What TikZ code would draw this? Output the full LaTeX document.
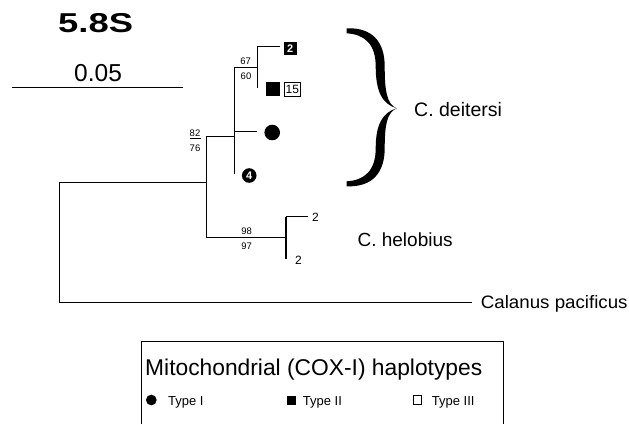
\documentclass[tikz,border=0pt]{standalone}
\usepackage{fontspec}
\setmainfont{Liberation Sans}
\newcommand{\fs}[1]{\fontsize{#1}{#1}\selectfont}
\begin{document}
\begin{tikzpicture}[x=1pt,y=-1pt,
  branch/.style={line width=0.9pt},
  lbl/.style={inner sep=0pt,font=\fs{9.5}},
  txt/.style={inner sep=0pt,anchor=base west}]
\useasboundingbox (0,0) rectangle (629,424);
% title and scale
\node[txt] (title) at (58,32) {\scalebox{1.4}[1.05]{\fs{26}\bfseries 5.8S}};
\node[txt] (scalelbl) at (74,81) {\fs{24.5}0.05};
\coordinate (sb0) at (11.7,87.3);
\coordinate (sb1) at (183,87.3);
\draw[line width=1.1pt] (sb0) -- (sb1);
% tree junctions
\coordinate (rA) at (59,182.3);
\coordinate (rB) at (59,302);
\coordinate (cal) at (471.7,302);
\coordinate (n1a) at (206,182.3);
\coordinate (n1t) at (206,136.7);
\coordinate (n1b) at (206,237.7);
\coordinate (n2a) at (234.3,136.7);
\coordinate (n2t) at (234.3,67.7);
\coordinate (n2b) at (234.3,174);
\coordinate (n3a) at (257.7,67.7);
\coordinate (n3t) at (257.7,46);
\coordinate (n3b) at (257.7,88.3);
\coordinate (t2) at (280,46);
\coordinate (cb0) at (234.3,131);
\coordinate (cb1) at (257.3,131);
\coordinate (h0) at (286,237.7);
\coordinate (h1) at (286,216.7);
\coordinate (h2) at (286,259.3);
\coordinate (h1e) at (308.3,216.7);
\draw[branch] (cal) -- (rB) -- (rA) -- (n1a);
\draw[branch] (n1t) -- (n1b) -- (h0);
\draw[branch] (n1t) -- (n2a);
\draw[branch] (n2t) -- (n2b);
\draw[branch] (n2t) -- (n3a);
\draw[branch] (n3t) -- (n3b);
\draw[branch] (n3t) -- (t2);
\draw[branch] (cb0) -- (cb1);
\draw[line width=1.3pt] (h1) -- (h2);
\draw[branch] (h1) -- (h1e);
% bootstrap labels
\node[lbl,anchor=base] (b67) at (245.7,64) {67};
\node[lbl,anchor=base] (b60) at (246,79.3) {60};
\node[lbl,anchor=base] (b82) at (195,136) {82};
\node[lbl,anchor=base] (b76) at (195,151) {76};
\coordinate (fr0) at (190,138.3);
\coordinate (fr1) at (200.7,138.3);
\draw[line width=0.8pt] (fr0) -- (fr1);
\node[lbl,anchor=base] (b98) at (246.7,234.3) {98};
\node[lbl,anchor=base] (b97) at (246.7,249.3) {97};
\node[inner sep=0pt,anchor=base,font=\fs{12}] (hl1) at (315.5,221.7) {2};
\node[inner sep=0pt,anchor=base,font=\fs{12}] (hl2) at (298.5,264) {2};
% haplotype symbols
\node[fill=black,minimum width=12.7pt,minimum height=13.3pt,inner sep=0pt,text=white,font=\fs{11}\bfseries] (hap2) at (290.3,48.3) {2};
\node[fill=black,minimum size=14pt,inner sep=0pt] (sq15) at (273,89) {};
\node[draw,line width=0.8pt,minimum width=15.3pt,minimum height=14.7pt,inner sep=0pt,font=\fs{12}] (op15) at (292.3,89.3) {15};
\node[circle,fill=black,minimum size=15.6pt,inner sep=0pt] (c1) at (272.2,132.5) {};
\node[circle,fill=black,minimum size=14.6pt,inner sep=0pt,text=white,font=\fs{11}\bfseries] (c4) at (249.2,175.5) {4};
% brace
\begin{scope}[shift={(346.7,28.3)}]
\fill (0,0) .. controls (26,-1) and (38,14) .. (38,38)
      .. controls (38,62) and (40,76) .. (50,80)
      .. controls (40,84) and (38,98) .. (38,120)
      .. controls (38,144) and (26,159) .. (0,158)
      -- (0,153) .. controls (18,152) and (29,142) .. (29,120)
      .. controls (29,96) and (36,84) .. (50,80)
      .. controls (36,76) and (29,64) .. (29,38)
      .. controls (29,16) and (18,6) .. (0,5) -- cycle;
\end{scope}
% species labels
\node[txt] (deit) at (414,116.7) {\fs{19.5}C. deitersi};
\node[txt] (helo) at (357.4,246.7) {\fs{19}C. helobius};
\node[txt] (calp) at (480.7,308) {\scalebox{1.04}[1]{\fs{18}Calanus pacificus}};
% legend
\coordinate (lg0) at (141.7,424);
\coordinate (lg1) at (141.7,341);
\coordinate (lg2) at (503,341);
\coordinate (lg3) at (503,424);
\draw[line width=0.9pt] (lg0) -- (lg1) -- (lg2) -- (lg3);
\node[txt] (lgt) at (145,375) {\fs{22.8}Mitochondrial (COX-I) haplotypes};
\node[circle,fill=black,minimum size=10.7pt,inner sep=0pt] (lc1) at (151.3,400) {};
\node[txt] (lt1) at (168,405) {\fs{13}Type I};
\node[fill=black,minimum size=9pt,inner sep=0pt] (lc2) at (291.2,400) {};
\node[txt] (lt2) at (302.7,405) {\fs{13}Type II};
\node[draw,line width=0.8pt,minimum size=8.7pt,inner sep=0pt] (lc3) at (417.3,400) {};
\node[txt] (lt3) at (431.7,405) {\fs{13}Type III};
\end{tikzpicture}
\end{document}
